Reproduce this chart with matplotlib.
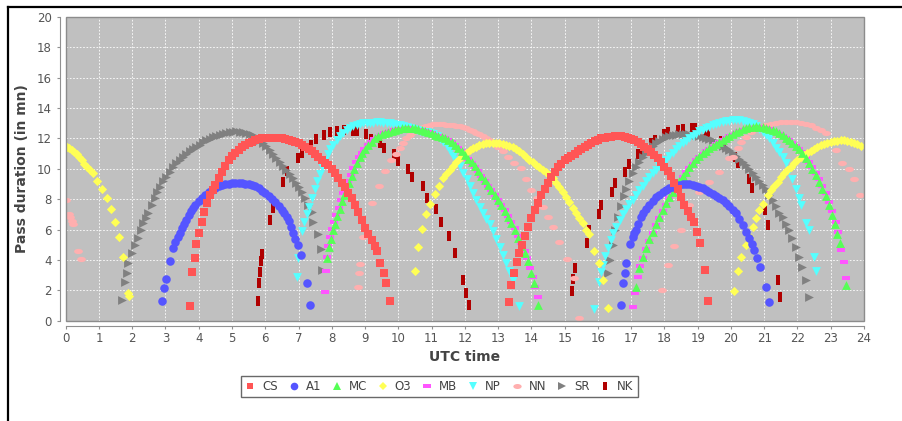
import matplotlib
matplotlib.use('Agg')
import matplotlib.pyplot as plt
from matplotlib.path import Path
from matplotlib.transforms import Affine2D
from matplotlib.lines import Line2D
from matplotlib.patches import Rectangle

# ---------------- data ----------------
SERIES = ['CS', 'A1', 'MC', 'O3', 'MB', 'NP', 'NN', 'SR', 'NK']
X_TICKS = list(range(0, 25))
Y_TICKS = list(range(0, 21, 2))

CS_PTS = [(3.73,0.99),(3.80,3.19),(3.88,4.11),(3.93,5.05),(4.01,5.76),(4.10,6.49),(4.17,7.15),(4.25,7.75),(4.33,8.3),(4.42,8.6),
 (4.5,8.95),(4.6,9.4),(4.7,9.8),(4.8,10.2),(4.9,10.55),(5.0,10.82),(5.1,11.05),(5.2,11.25),(5.3,11.43),(5.4,11.58),
 (5.5,11.7),(5.6,11.8),(5.7,11.9),(5.8,11.95),(5.9,12.0),(6.0,12.03),(6.1,12.05),(6.2,12.05),(6.3,12.05),(6.4,12.03),
 (6.5,12.0),(6.6,11.97),(6.7,11.92),(6.8,11.85),(6.9,11.78),(7.0,11.7),(7.1,11.58),(7.2,11.47),(7.3,11.33),(7.4,11.18),
 (7.5,11.0),(7.6,10.8),(7.7,10.6),(7.8,10.4),(7.9,10.26),(8.0,10.0),(8.1,9.72),(8.2,9.42),(8.3,9.1),(8.4,8.78),
 (8.5,8.42),(8.6,8.05),(8.7,7.65),(8.8,7.15),(8.9,6.6),(9.0,6.1),(9.1,5.7),(9.2,5.3),(9.3,4.9),(9.36,4.62),
 (9.46,3.82),(9.56,3.16),(9.64,2.47),(9.74,1.32),
 (13.32,1.21),(13.39,2.38),(13.49,3.17),(13.56,3.85),(13.64,4.44),(13.72,5.0),(13.8,5.6),(13.89,6.2),(14.0,6.75),(14.1,7.3),
 (14.19,7.74),(14.3,8.25),(14.4,8.7),(14.5,9.1),(14.6,9.49),(14.7,9.8),(14.8,10.1),(14.9,10.35),(15.0,10.55),(15.1,10.7),
 (15.2,10.85),(15.3,11.0),(15.4,11.15),(15.5,11.3),(15.6,11.45),(15.7,11.6),(15.8,11.72),(15.9,11.83),(16.0,11.92),(16.1,12.0),
 (16.2,12.06),(16.3,12.1),(16.4,12.13),(16.5,12.15),(16.6,12.15),(16.7,12.14),(16.8,12.1),(16.9,12.05),(17.0,11.98),(17.1,11.88),
 (17.2,11.76),(17.3,11.62),(17.4,11.46),(17.5,11.3),(17.6,11.12),(17.7,10.92),(17.8,10.7),(17.9,10.45),(18.0,10.15),(18.1,9.85),
 (18.2,9.5),(18.3,9.1),(18.4,8.65),(18.5,8.15),(18.6,7.6),(18.7,7.25),(18.8,6.85),(18.9,6.5),(18.98,5.83),(19.07,5.14),
 (19.22,3.34),(19.31,1.28)]

A1_PTS = [(2.91,1.3),(2.95,2.18),(3.01,2.75),(3.15,3.96),(3.23,4.77),(3.3,5.2),(3.37,5.5),(3.43,5.76),(3.5,6.1),(3.57,6.4),
 (3.63,6.64),(3.7,6.95),(3.77,7.2),(3.83,7.41),(3.9,7.65),(4.0,7.9),(4.1,8.1),(4.2,8.3),(4.3,8.48),(4.4,8.63),
 (4.5,8.77),(4.6,8.87),(4.7,8.95),(4.8,9.0),(4.9,9.03),(5.0,9.05),(5.1,9.06),(5.2,9.06),(5.3,9.05),(5.4,9.02),
 (5.5,8.98),(5.6,8.92),(5.7,8.84),(5.8,8.72),(5.9,8.55),(6.0,8.38),(6.1,8.2),(6.2,8.0),(6.3,7.8),(6.4,7.58),
 (6.5,7.3),(6.57,7.08),(6.64,6.86),(6.7,6.55),(6.77,6.2),(6.84,5.76),(6.9,5.4),(6.97,4.99),(7.07,4.33),(7.26,2.47),(7.34,1.04),
 (16.70,1.04),(16.75,2.47),(16.8,3.16),(16.85,3.78),(16.98,5.06),(17.05,5.5),(17.1,5.75),(17.15,5.98),(17.22,6.4),(17.3,6.8),
 (17.35,7.08),(17.45,7.35),(17.55,7.6),(17.65,7.9),(17.75,8.12),(17.85,8.3),(17.95,8.46),(18.05,8.6),(18.15,8.72),(18.25,8.82),
 (18.35,8.9),(18.45,8.94),(18.55,8.97),(18.65,8.98),(18.75,8.98),(18.85,8.95),(18.95,8.9),(19.05,8.83),(19.15,8.73),(19.25,8.6),
 (19.35,8.48),(19.45,8.35),(19.55,8.2),(19.65,8.08),(19.75,7.96),(19.85,7.78),(19.95,7.55),(20.05,7.32),(20.15,7.08),(20.25,6.7),
 (20.35,6.3),(20.45,5.85),(20.55,5.43),(20.62,5.05),(20.7,4.66),(20.78,4.1),(20.87,3.56),(21.05,2.24),(21.13,1.21)]

MC_PTS = [(7.87,4.11),(7.92,4.88),(7.97,5.4),(8.04,5.98),(8.1,6.4),(8.17,6.88),(8.24,7.35),(8.31,7.85),(8.38,8.3),(8.45,8.7),
 (8.52,9.1),(8.6,9.55),(8.68,10.0),(8.76,10.4),(8.84,10.75),(8.92,11.05),(9.0,11.3),(9.1,11.55),(9.2,11.8),(9.3,12.0),
 (9.4,12.15),(9.5,12.28),(9.6,12.38),(9.7,12.45),(9.8,12.52),(9.9,12.57),(10.0,12.62),(10.1,12.66),(10.2,12.69),(10.3,12.7),
 (10.4,12.69),(10.5,12.66),(10.6,12.61),(10.7,12.55),(10.8,12.48),(10.9,12.41),(11.0,12.34),(11.1,12.26),(11.2,12.18),(11.3,12.1),
 (11.4,12.03),(11.5,11.93),(11.6,11.77),(11.7,11.6),(11.8,11.4),(11.9,11.15),(12.0,10.9),(12.1,10.67),(12.2,10.42),(12.3,10.17),
 (12.4,9.88),(12.5,9.56),(12.6,9.24),(12.7,8.92),(12.8,8.6),(12.9,8.27),(13.0,7.94),(13.1,7.6),(13.2,7.24),(13.3,6.85),
 (13.4,6.43),(13.5,5.96),(13.6,5.46),(13.7,4.94),(13.8,4.44),(13.89,3.95),(13.99,3.12),(14.09,2.47),(14.19,1.04),
 (17.15,2.24),(17.25,3.45),(17.35,4.2),(17.45,4.8),(17.55,5.35),(17.65,5.87),(17.75,6.37),(17.85,6.85),(17.95,7.3),(18.05,7.72),
 (18.15,8.12),(18.25,8.5),(18.35,8.85),(18.45,9.2),(18.55,9.52),(18.65,9.82),(18.75,10.1),(18.85,10.37),(18.95,10.62),(19.05,10.85),
 (19.15,11.03),(19.25,11.2),(19.35,11.36),(19.45,11.5),(19.55,11.65),(19.65,11.8),(19.75,11.93),(19.85,12.05),(19.95,12.17),(20.05,12.3),
 (20.15,12.42),(20.25,12.52),(20.35,12.6),(20.45,12.67),(20.55,12.73),(20.65,12.77),(20.75,12.79),(20.85,12.78),(20.95,12.75),(21.05,12.7),
 (21.15,12.64),(21.25,12.56),(21.35,12.46),(21.45,12.34),(21.55,12.2),(21.65,12.05),(21.75,11.88),(21.85,11.7),(21.95,11.5),(22.05,11.28),
 (22.15,11.02),(22.25,10.72),(22.35,10.38),(22.45,10.0),(22.55,9.6),(22.65,9.15),(22.75,8.68),(22.85,8.2),(22.95,7.6),(23.05,6.95),
 (23.12,6.4),(23.2,5.7),(23.27,5.1),(23.47,2.35)]

O3_PTS = [(0.03,11.47),(0.1,11.35),(0.18,11.22),(0.25,11.12),(0.33,11.0),(0.4,10.8),(0.48,10.55),(0.55,10.35),(0.63,10.15),(0.73,9.95),
 (0.83,9.72),(0.95,9.21),(1.08,8.68),(1.23,8.07),(1.35,7.36),(1.48,6.53),(1.61,5.54),(1.73,4.22),(1.88,1.85),(1.91,1.63),
 (10.49,3.25),(10.6,4.88),(10.7,6.02),(10.84,7.0),(10.95,7.68),(11.09,8.35),(11.22,8.9),(11.34,9.39),(11.44,9.68),(11.54,9.93),
 (11.64,10.2),(11.74,10.45),(11.84,10.7),(11.94,10.9),(12.04,11.07),(12.14,11.22),(12.24,11.35),(12.34,11.46),(12.44,11.55),(12.54,11.62),
 (12.64,11.67),(12.74,11.7),(12.84,11.72),(12.94,11.72),(13.04,11.7),(13.14,11.66),(13.24,11.6),(13.34,11.52),(13.44,11.42),(13.54,11.3),
 (13.64,11.16),(13.74,11.0),(13.84,10.81),(13.94,10.6),(14.04,10.42),(14.14,10.25),(14.24,10.1),(14.34,9.95),(14.44,9.8),(14.54,9.62),
 (14.64,9.38),(14.74,9.1),(14.84,8.8),(14.94,8.45),(15.04,8.12),(15.14,7.8),(15.24,7.45),(15.34,7.08),(15.44,6.75),(15.54,6.42),
 (15.64,6.0),(15.72,5.7),(15.89,4.62),(16.04,3.78),(16.14,2.7),(16.29,0.82),
 (20.1,1.96),(20.2,3.3),(20.3,4.18),(20.45,4.99),(20.55,5.6),(20.65,6.2),(20.75,6.75),(20.85,7.3),(20.95,7.7),(21.1,8.25),
 (21.2,8.6),(21.3,8.9),(21.4,9.15),(21.5,9.45),(21.6,9.7),(21.7,9.93),(21.8,10.15),(21.9,10.38),(22.0,10.58),(22.1,10.75),
 (22.2,10.9),(22.3,11.03),(22.4,11.16),(22.5,11.3),(22.6,11.42),(22.7,11.55),(22.8,11.65),(22.9,11.72),(23.0,11.78),(23.1,11.83),
 (23.2,11.86),(23.3,11.88),(23.4,11.87),(23.5,11.84),(23.6,11.78),(23.7,11.7),(23.8,11.62),(23.9,11.5)]

MB_PTS = [(7.79,1.91),(7.82,3.3),(7.86,4.2),(7.9,4.9),(7.95,5.5),(8.01,6.05),(8.07,6.5),(8.14,6.98),(8.21,7.45),(8.28,7.93),
 (8.35,8.38),(8.42,8.78),(8.49,9.18),(8.57,9.6),(8.65,10.03),(8.73,10.42),(8.81,10.77),(8.9,11.07),(8.98,11.3),(9.08,11.55),
 (9.18,11.78),(9.28,11.97),(9.38,12.12),(9.48,12.25),(9.58,12.35),(9.68,12.43),(9.78,12.5),(9.88,12.55),(9.98,12.6),(10.1,12.63),
 (10.2,12.65),(10.3,12.66),(10.4,12.65),(10.5,12.63),(10.6,12.58),(10.7,12.53),(10.8,12.47),(10.9,12.4),(11.0,12.33),(11.1,12.25),
 (11.2,12.17),(11.3,12.1),(11.4,12.03),(11.5,11.92),(11.6,11.76),(11.7,11.58),(11.8,11.38),(11.9,11.15),(12.0,10.9),(12.1,10.65),
 (12.2,10.4),(12.3,10.15),(12.4,9.85),(12.5,9.55),(12.6,9.23),(12.7,8.9),(12.8,8.58),(12.9,8.27),(13.0,7.95),(13.1,7.62),
 (13.2,7.27),(13.3,6.9),(13.4,6.5),(13.5,6.08),(13.6,5.6),(13.7,5.1),(13.8,4.62),(13.88,4.1),(13.96,3.5),(14.04,2.9),
 (14.11,2.2),(14.19,1.54),
 (17.05,0.92),(17.12,1.85),(17.2,2.9),(17.28,3.6),(17.35,4.11),(17.45,4.72),(17.55,5.28),(17.65,5.8),(17.75,6.3),(17.85,6.78),
 (17.95,7.23),(18.05,7.65),(18.15,8.05),(18.25,8.43),(18.35,8.8),(18.45,9.15),(18.55,9.47),(18.65,9.77),(18.75,10.05),(18.85,10.32),
 (18.95,10.57),(19.05,10.8),(19.15,11.0),(19.25,11.17),(19.35,11.33),(19.45,11.47),(19.55,11.62),(19.65,11.76),(19.75,11.9),(19.85,12.02),
 (19.95,12.14),(20.05,12.26),(20.15,12.38),(20.25,12.48),(20.35,12.56),(20.45,12.63),(20.55,12.68),(20.65,12.72),(20.75,12.74),(20.85,12.73),
 (20.95,12.7),(21.05,12.66),(21.15,12.6),(21.25,12.52),(21.35,12.43),(21.45,12.32),(21.55,12.19),(21.65,12.05),(21.75,11.89),(21.85,11.72),
 (21.95,11.53),(22.05,11.32),(22.15,11.08),(22.25,10.8),(22.35,10.48),(22.45,10.12),(22.55,9.72),(22.65,9.3),(22.75,8.85),(22.85,8.38),
 (22.95,7.8),(23.05,7.2),(23.15,6.5),(23.22,5.85),(23.3,4.66),(23.4,3.89),(23.45,2.79)]

NP_PTS = [(6.94,2.9),(6.99,4.1),(7.1,5.9),(7.17,6.5),(7.24,7.0),(7.32,7.5),(7.4,8.1),(7.48,8.7),(7.56,9.2),(7.64,9.65),
 (7.72,10.1),(7.8,10.55),(7.88,10.95),(7.96,11.3),(8.05,11.6),(8.15,11.9),(8.25,12.15),(8.35,12.37),(8.45,12.55),(8.55,12.7),
 (8.65,12.8),(8.75,12.88),(8.85,12.94),(8.95,12.99),(9.05,13.02),(9.15,13.04),(9.25,13.05),(9.35,13.06),(9.45,13.06),(9.55,13.05),
 (9.65,13.03),(9.75,13.0),(9.85,12.96),(9.95,12.92),(10.05,12.87),(10.15,12.82),(10.25,12.76),(10.35,12.7),(10.45,12.63),(10.55,12.56),
 (10.65,12.5),(10.75,12.45),(10.85,12.4),(10.95,12.35),(11.05,12.27),(11.15,12.15),(11.25,11.98),(11.35,11.75),(11.45,11.48),(11.55,11.18),
 (11.65,10.87),(11.75,10.55),(11.85,10.18),(11.95,9.75),(12.05,9.3),(12.15,8.85),(12.25,8.4),(12.35,7.95),(12.45,7.5),(12.55,7.1),
 (12.65,6.72),(12.75,6.35),(12.85,5.9),(12.95,5.4),(13.05,4.88),(13.15,4.35),(13.25,3.8),(13.34,3.3),(13.46,2.68),(13.63,0.95),
 (15.89,0.75),(16.02,2.57),(16.08,3.2),(16.14,3.7),(16.22,4.25),(16.3,4.8),(16.38,5.3),(16.46,5.75),(16.55,6.2),(16.65,6.64),
 (16.75,7.0),(16.85,7.35),(16.95,7.66),(17.05,7.96),(17.15,8.28),(17.25,8.6),(17.35,8.9),(17.45,9.2),(17.55,9.49),(17.65,9.72),
 (17.75,9.95),(17.85,10.17),(17.95,10.39),(18.05,10.6),(18.15,10.83),(18.25,11.06),(18.35,11.28),(18.45,11.5),(18.55,11.7),(18.65,11.86),
 (18.75,12.01),(18.85,12.16),(18.95,12.31),(19.05,12.46),(19.15,12.56),(19.25,12.66),(19.35,12.76),(19.45,12.86),(19.55,12.94),(19.65,13.0),
 (19.75,13.07),(19.85,13.13),(19.95,13.18),(20.05,13.22),(20.15,13.22),(20.25,13.2),(20.35,13.15),(20.45,13.1),(20.55,13.03),(20.65,12.95),
 (20.75,12.8),(20.85,12.62),(20.95,12.45),(21.05,12.25),(21.15,12.0),(21.25,11.7),(21.35,11.4),(21.45,11.08),(21.55,10.75),(21.65,10.4),
 (21.75,9.95),(21.85,9.35),(21.95,8.7),(22.05,8.05),(22.12,7.6),(22.25,6.42),(22.35,5.98),(22.5,4.2),(22.55,3.25)]

NN_PTS = [(0.02,7.95),(0.1,7.05),(0.14,6.8),(0.18,6.55),(0.22,6.35),(0.36,4.6),(0.46,4.05),
 (8.79,2.24),(8.82,3.12),(8.84,3.74),(8.94,5.54),(9.22,7.74),(9.42,8.88),(9.59,9.89),(9.79,10.6),(9.92,11.0),
 (10.04,11.36),(10.14,11.7),(10.24,12.02),(10.34,12.22),(10.44,12.4),(10.54,12.57),(10.64,12.68),(10.74,12.77),(10.84,12.84),(10.94,12.9),
 (11.04,12.93),(11.14,12.94),(11.24,12.95),(11.34,12.94),(11.44,12.92),(11.54,12.9),(11.64,12.86),(11.74,12.84),(11.84,12.8),(11.94,12.75),
 (12.04,12.68),(12.14,12.58),(12.24,12.47),(12.34,12.37),(12.44,12.27),(12.54,12.17),(12.64,12.05),(12.74,11.9),(12.84,11.72),(12.99,11.47),
 (13.14,11.15),(13.29,10.81),(13.49,10.4),(13.69,10.05),(13.84,9.35),(13.99,8.62),(14.17,8.05),(14.34,7.52),(14.49,6.85),(14.64,6.2),
 (14.84,5.21),(15.06,4.05),(15.27,2.8),(15.44,0.16),
 (17.94,2.02),(18.1,3.67),(18.3,4.92),(18.5,5.98),(18.75,7.63),(19.05,8.5),(19.35,9.16),(19.65,9.82),(19.95,10.7),(20.05,10.81),
 (20.2,11.4),(20.3,11.75),(20.45,12.1),(20.6,12.4),(20.75,12.6),(20.9,12.75),(21.05,12.88),(21.2,12.97),(21.35,13.03),(21.5,13.07),
 (21.65,13.1),(21.8,13.1),(21.95,13.08),(22.1,13.03),(22.25,12.97),(22.4,12.88),(22.55,12.7),(22.7,12.55),(22.85,12.35),(23.0,11.8),
 (23.15,11.25),(23.35,10.4),(23.55,10.0),(23.7,9.35),(23.87,8.3)]

SR_PTS = [(1.68,1.36),(1.78,2.57),(1.83,3.12),(1.88,3.78),(1.98,4.44),(2.08,4.99),(2.18,5.47),(2.25,5.95),(2.33,6.42),(2.4,6.75),
 (2.48,7.08),(2.58,7.6),(2.68,8.07),(2.75,8.45),(2.83,8.83),(2.93,9.17),(3.03,9.49),(3.13,9.82),(3.23,10.15),(3.33,10.4),
 (3.43,10.6),(3.53,10.81),(3.63,11.0),(3.73,11.15),(3.83,11.3),(3.93,11.47),(4.03,11.6),(4.13,11.75),(4.23,11.88),(4.33,11.98),
 (4.43,12.07),(4.53,12.15),(4.63,12.23),(4.73,12.3),(4.83,12.36),(4.93,12.42),(5.03,12.45),(5.13,12.46),(5.23,12.45),(5.33,12.41),
 (5.43,12.37),(5.53,12.3),(5.63,12.2),(5.73,12.05),(5.83,11.9),(5.93,11.72),(6.03,11.5),(6.13,11.25),(6.23,10.98),(6.33,10.7),
 (6.43,10.45),(6.53,10.2),(6.63,9.95),(6.73,9.68),(6.83,9.4),(6.93,9.1),(7.01,8.8),(7.09,8.5),(7.19,8.05),(7.29,7.63),
 (7.39,7.19),(7.44,6.5),(7.59,5.7),(7.67,4.72),(7.72,3.34),
 (16.29,3.14),(16.36,4.0),(16.44,5.0),(16.52,5.95),(16.6,6.8),(16.68,7.55),(16.77,8.2),(16.85,8.7),(16.95,9.22),(17.05,9.72),
 (17.15,10.1),(17.25,10.47),(17.35,10.81),(17.45,11.07),(17.55,11.3),(17.65,11.52),(17.75,11.7),(17.85,11.85),(17.95,11.97),(18.05,12.07),
 (18.15,12.15),(18.25,12.2),(18.35,12.24),(18.45,12.27),(18.55,12.28),(18.65,12.28),(18.75,12.27),(18.85,12.25),(18.95,12.22),(19.05,12.18),
 (19.15,12.13),(19.25,12.06),(19.35,11.98),(19.45,11.89),(19.55,11.8),(19.65,11.67),(19.75,11.53),(19.85,11.38),(19.95,11.21),(20.05,11.03),
 (20.15,10.85),(20.25,10.65),(20.35,10.45),(20.45,10.23),(20.55,10.0),(20.65,9.75),(20.75,9.48),(20.85,9.2),(20.95,8.93),(21.05,8.65),
 (21.15,8.3),(21.25,7.93),(21.35,7.55),(21.45,7.1),(21.55,6.82),(21.65,6.4),(21.75,5.95),(21.85,5.43),(21.95,4.85),(22.05,4.22),
 (22.15,3.56),(22.25,2.68),(22.35,1.58)]

NK_PTS = [(5.78,1.3),(5.81,2.45),(5.84,3.2),(5.87,3.95),(5.89,4.4),(6.14,6.65),(6.24,7.45),(6.53,9.15),(6.64,9.85),
 (6.97,10.7),(7.09,11.05),(7.38,11.55),(7.54,11.95),(7.76,12.2),(7.95,12.42),(8.17,12.5),(8.36,12.55),(8.65,12.5),(8.75,12.48),
 (9.02,12.3),(9.18,11.95),(9.46,11.7),(9.57,11.4),(9.87,10.95),(10.0,10.5),(10.28,10.0),(10.41,9.45),(10.73,8.85),(10.87,8.1),
 (11.13,7.35),(11.27,6.5),(11.53,5.55),(11.7,4.45),(11.95,2.7),(12.04,1.85),(12.12,1.04),
 (15.22,1.95),(15.26,2.75),(15.3,3.5),(15.66,5.1),(15.74,5.95),(16.02,7.0),(16.1,7.6),(16.42,8.5),(16.5,9.1),
 (16.82,9.8),(16.92,10.3),(17.22,10.95),(17.32,11.15),(17.6,11.7),(17.72,11.9),(18.0,12.3),(18.12,12.4),(18.42,12.55),(18.55,12.6),
 (18.82,12.68),(18.92,12.66),(19.22,12.5),(19.32,12.3),(19.7,11.85),(19.8,11.55),(20.12,10.8),(20.22,10.4),(20.55,9.3),(20.62,8.75),
 (21.02,7.3),(21.1,6.3),(21.42,2.68),(21.47,1.58)]

ALL_PTS = [CS_PTS, A1_PTS, MC_PTS, O3_PTS, MB_PTS, NP_PTS, NN_PTS, SR_PTS, NK_PTS]

# ---------------- styling ----------------
COLORS = ['#ff5555', '#5555ff', '#55ff55', '#ffff55', '#ff55ff', '#55ffff', '#ffafaf', '#808080', '#b00000']
HRECT = Path([(-1, -0.5), (1, -0.5), (1, 0.5), (-1, 0.5), (-1, -0.5)])
VRECT = Path([(-0.5, -1), (0.5, -1), (0.5, 1), (-0.5, 1), (-0.5, -1)])
ELLIPSE = Path.unit_circle().transformed(Affine2D().scale(1.0, 0.6))
MARKERS = ['s', 'o', '^', 'D', HRECT, 'v', ELLIPSE, '>', VRECT]
SIZES = [32, 38, 40, 22, 40, 40, 40, 40, 44]
LEG_SIZES = [5.0, 5.5, 6.0, 4.0, 6.0, 6.0, 6.0, 6.0, 6.0]

plt.rcParams['font.family'] = ['DejaVu Sans']

W, H = 903, 421
fig = plt.figure(figsize=(W / 100, H / 100), dpi=100)
fig.patch.set_facecolor('white')

left, right, top, bottom = 65.7, 864.0, 17.0, 320.7
ax = fig.add_axes([left / W, 1 - bottom / H, (right - left) / W, (bottom - top) / H])
ax.set_facecolor('#c0c0c0')
ax.set_xlim(0, 24)
ax.set_ylim(0, 20)
ax.set_xticks(X_TICKS)
ax.set_yticks(Y_TICKS)
ax.grid(True, color='white', linestyle=(0, (2, 2)), linewidth=0.6)
ax.set_axisbelow(True)

for sp in ['top', 'right']:
    ax.spines[sp].set_visible(False)
for sp in ['left', 'bottom']:
    ax.spines[sp].set_position(('outward', 4))
    ax.spines[sp].set_color('#909090')
    ax.spines[sp].set_linewidth(0.8)
ax.add_patch(Rectangle((0, 0), 1, 1, transform=ax.transAxes, fill=False,
                       edgecolor='#8c8c8c', linewidth=1.0, clip_on=False, zorder=5))
ax.tick_params(direction='out', length=2, width=0.8, color='#909090',
               labelsize=8.5, labelcolor='#555555')
ax.tick_params(axis='y', pad=4)
ax.tick_params(axis='x', pad=2)

for i in reversed(range(len(SERIES))):
    xs = [p[0] for p in ALL_PTS[i]]
    ys = [p[1] for p in ALL_PTS[i]]
    ax.scatter(xs, ys, s=SIZES[i], marker=MARKERS[i], color=COLORS[i],
               linewidths=0, zorder=3)

fig.text((left + right) / 2 / W, 1 - 357 / H, 'UTC time', ha='center', va='center',
         fontsize=10, fontweight='bold', color='#444444')
fig.text(22 / W, 1 - (top + bottom) / 2 / H, 'Pass duration (in mn)', ha='center', va='center',
         rotation=90, fontsize=10, fontweight='bold', color='#444444')

handles = [Line2D([], [], linestyle='', marker=MARKERS[i], color=COLORS[i],
                  markersize=LEG_SIZES[i], markeredgewidth=0) for i in range(len(SERIES))]
leg = fig.legend(handles, SERIES, loc='center', bbox_to_anchor=(439.5 / W, 1 - 386.5 / H),
                 ncol=9, frameon=True, fancybox=False, fontsize=8.5, handlelength=0.8,
                 handletextpad=0.6, columnspacing=0.95, borderpad=0.35, borderaxespad=0)
leg.get_frame().set_edgecolor('#444444')
leg.get_frame().set_linewidth(1.0)
for t in leg.get_texts():
    t.set_color('#444444')

# outer frame lines (top and left)
fig.add_artist(Line2D([8.3 / W, 1.0], [1 - 7 / H, 1 - 7 / H], color='black', linewidth=1.6))
fig.add_artist(Line2D([8.3 / W, 8.3 / W], [0, 1 - 7 / H], color='black', linewidth=1.6))

fig.savefig('out.png', dpi=100, facecolor='white')
